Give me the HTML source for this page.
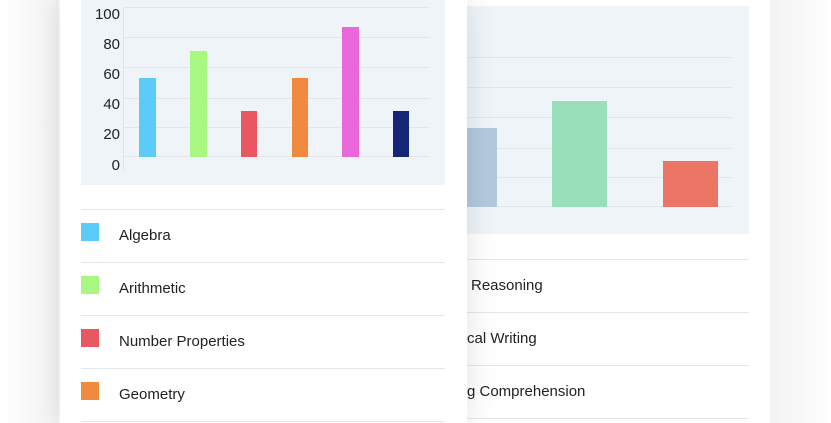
<!DOCTYPE html>
<html><head><style>
body{margin:0;width:831px;height:423px;overflow:hidden;position:relative;background:linear-gradient(90deg,#fff 0,#f3f3f4 58px,#fff 60px);font-family:"Liberation Sans",sans-serif;}
.abs{position:absolute}
.rbg{left:770px;top:0;width:61px;height:423px;background:linear-gradient(90deg,#f3f3f4,#fafafa 40px,#fff)}
.back{left:440px;top:0;width:330px;height:423px;background:#fff}
.front{left:60px;top:0;width:407px;height:423px;background:#fff;box-shadow:0 0 30px rgba(0,0,0,0.12)}
.line{height:1px;background:#e4e6e9}
.lbl{font-size:15px;color:#222}
.tick{font-size:15px;color:#222;width:40px;text-align:right}
</style></head><body>
<div class="abs rbg"></div>
<div class="abs back"></div>
<div class="abs" style="left:467px;top:6px;width:282px;height:228px;background:#eff4f8"></div>
<div class="abs line" style="left:467px;top:57px;width:265px"></div>
<div class="abs line" style="left:467px;top:87px;width:265px"></div>
<div class="abs line" style="left:467px;top:117px;width:265px"></div>
<div class="abs line" style="left:467px;top:148px;width:265px"></div>
<div class="abs line" style="left:467px;top:177px;width:265px"></div>
<div class="abs line" style="left:467px;top:206px;width:265px"></div>
<div class="abs" style="left:467px;top:128px;width:30px;height:79px;background:#b3c9de"></div>
<div class="abs" style="left:552px;top:101px;width:55px;height:106px;background:#99dfb9"></div>
<div class="abs" style="left:663px;top:161px;width:55px;height:46px;background:#ec7666"></div>
<div class="abs line" style="left:467px;top:259px;width:282px"></div>
<div class="abs line" style="left:467px;top:312px;width:282px"></div>
<div class="abs line" style="left:467px;top:365px;width:282px"></div>
<div class="abs line" style="left:467px;top:418px;width:282px"></div>
<div class="abs lbl" style="left:471px;top:277px">Reasoning</div>
<div class="abs lbl" style="left:467px;top:330px">cal Writing</div>
<div class="abs lbl" style="left:467px;top:383px">g Comprehension</div>

<div class="abs front"></div>
<div class="abs" style="left:81px;top:0;width:364px;height:185px;background:#eff4f8"></div>
<div class="abs line" style="left:123px;top:7px;width:307px"></div>
<div class="abs line" style="left:123px;top:37px;width:307px"></div>
<div class="abs line" style="left:123px;top:67px;width:307px"></div>
<div class="abs line" style="left:123px;top:98px;width:307px"></div>
<div class="abs line" style="left:123px;top:127px;width:307px"></div>
<div class="abs line" style="left:123px;top:156px;width:307px"></div>
<div class="abs" style="left:123px;top:7px;width:1px;height:163px;background:#e0e3e7"></div>
<div class="abs tick" style="left:80px;top:6px">100</div>
<div class="abs tick" style="left:80px;top:36px">80</div>
<div class="abs tick" style="left:80px;top:66px">60</div>
<div class="abs tick" style="left:80px;top:96px">40</div>
<div class="abs tick" style="left:80px;top:126px">20</div>
<div class="abs tick" style="left:80px;top:157px">0</div>
<div class="abs" style="left:139px;top:78px;width:17px;height:79px;background:#5ccbfa"></div>
<div class="abs" style="left:190px;top:51px;width:17px;height:106px;background:#a8f780"></div>
<div class="abs" style="left:241px;top:111px;width:16px;height:46px;background:#e95862"></div>
<div class="abs" style="left:292px;top:78px;width:16px;height:79px;background:#ef8a3f"></div>
<div class="abs" style="left:342px;top:27px;width:17px;height:130px;background:#e967da"></div>
<div class="abs" style="left:393px;top:111px;width:16px;height:46px;background:#162677"></div>
<div class="abs line" style="left:81px;top:209px;width:364px"></div>
<div class="abs line" style="left:81px;top:262px;width:364px"></div>
<div class="abs line" style="left:81px;top:315px;width:364px"></div>
<div class="abs line" style="left:81px;top:368px;width:364px"></div>
<div class="abs line" style="left:81px;top:421px;width:364px"></div>
<div class="abs" style="left:81px;top:223px;width:18px;height:18px;background:#5ccbfa"></div>
<div class="abs" style="left:81px;top:276px;width:18px;height:18px;background:#a8f780"></div>
<div class="abs" style="left:81px;top:329px;width:18px;height:18px;background:#e95862"></div>
<div class="abs" style="left:81px;top:382px;width:18px;height:18px;background:#ef8a3f"></div>
<div class="abs lbl" style="left:119px;top:227px">Algebra</div>
<div class="abs lbl" style="left:119px;top:280px">Arithmetic</div>
<div class="abs lbl" style="left:119px;top:333px">Number Properties</div>
<div class="abs lbl" style="left:119px;top:386px">Geometry</div>
</body></html>
